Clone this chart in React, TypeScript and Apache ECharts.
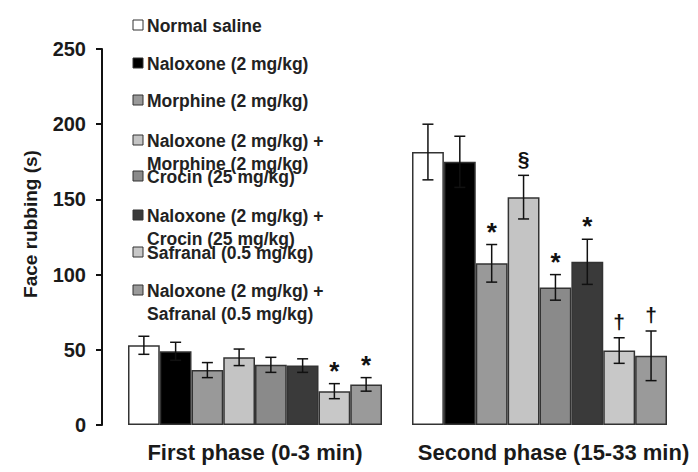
import React, { useEffect, useRef } from "react";
import * as echarts from "echarts";

const groups = [
  "Normal saline",
  "Naloxone (2 mg/kg)",
  "Morphine (2 mg/kg)",
  "Naloxone (2 mg/kg) +\nMorphine (2 mg/kg)",
  "Crocin (25 mg/kg)",
  "Naloxone (2 mg/kg) +\nCrocin (25 mg/kg)",
  "Safranal (0.5 mg/kg)",
  "Naloxone (2 mg/kg) +\nSafranal (0.5 mg/kg)",
];
const colors = ["#ffffff", "#000000", "#999999", "#c4c4c4", "#8a8a8a", "#3a3a3a", "#c8c8c8", "#9a9a9a"];
const phases = ["First phase (0-3 min)", "Second phase (15-33 min)"];
const firstMean = [53, 49, 36.5, 45, 40, 39.5, 22.5, 27];
const firstErr = [6, 6, 5, 5.5, 5, 4.5, 5, 4.5];
const firstMarks = ["", "", "", "", "", "", "*", "*"];
const secondMean = [181.5, 175, 107.5, 151.5, 91.5, 108.5, 49.5, 46];
const secondErr = [18.5, 17, 12.5, 14.5, 8.5, 15, 8.5, 16.5];
const secondMarks = ["", "", "*", "§", "*", "*", "†", "†"];
const yTicks = [0, 50, 100, 150, 200, 250];

const FONT = "Liberation Sans, Arial, sans-serif";

function buildPhase(idx: number, mean: number[], err: number[], marks: string[]) {
  const cats = groups.map((_, i) => String(i));
  const bar = {
    type: "bar",
    xAxisIndex: idx,
    yAxisIndex: idx,
    barWidth: "100%",
    data: mean.map((v, i) => ({
      value: v,
      itemStyle: { color: colors[i], borderColor: "#333", borderWidth: 1.5 },
    })),
    z: 2,
  };
  const errSeries = {
    type: "custom",
    xAxisIndex: idx,
    yAxisIndex: idx,
    z: 3,
    data: mean.map((v, i) => [i, v, err[i]]),
    renderItem: (params: any, api: any) => {
      const x = api.value(0);
      const m = api.value(1);
      const e = api.value(2);
      const mk = marks[x];
      const top = api.coord([x, m + e]);
      const bot = api.coord([x, m - e]);
      const cap = 5.5;
      const st = { stroke: "#111", lineWidth: 1.5 };
      const children: any[] = [
        { type: "line", shape: { x1: top[0], y1: top[1], x2: bot[0], y2: bot[1] }, style: st },
        { type: "line", shape: { x1: top[0] - cap, y1: top[1], x2: top[0] + cap, y2: top[1] }, style: st },
        { type: "line", shape: { x1: bot[0] - cap, y1: bot[1], x2: bot[0] + cap, y2: bot[1] }, style: st },
      ];
      if (mk) {
        const isStar = mk === "*";
        children.push({
          type: "text",
          style: {
            text: mk,
            x: top[0],
            y: top[1] - (isStar ? 0 : 6),
            align: "center",
            verticalAlign: "bottom",
            font: `bold ${isStar ? 26 : 21}px ${FONT}`,
            fill: "#111",
          },
        });
      }
      return { type: "group", children };
    },
  };
  const xAxis = {
    type: "category",
    gridIndex: idx,
    data: cats,
    axisLine: { show: false },
    axisTick: { show: false },
    axisLabel: { show: false },
    name: phases[idx],
    nameLocation: "middle",
    nameGap: 16,
    nameTextStyle: {
      fontFamily: FONT,
      fontWeight: "bold",
      fontSize: 22,
      color: "#1a1a1a",
      padding: idx === 1 ? [0, 0, 0, 28] : [0, 0, 0, 0],
    },
  };
  return { bar, errSeries, xAxis };
}

export default function App() {
  const ref = useRef<HTMLDivElement>(null);
  useEffect(() => {
    if (!ref.current) return;
    const chart = echarts.init(ref.current, undefined, { renderer: "svg" });
    const p1 = buildPhase(0, firstMean, firstErr, firstMarks);
    const p2 = buildPhase(1, secondMean, secondErr, secondMarks);

    const legendGraphics: any[] = [];
    const legendY = [25, 63, 100, 140, 176, 215, 252, 290];
    groups.forEach((g, i) => {
      legendGraphics.push({
        type: "rect",
        shape: { x: 133, y: legendY[i] - 5, width: 10, height: 10 },
        style: { fill: colors[i], stroke: "#333", lineWidth: 1 },
      });
      legendGraphics.push({
        type: "text",
        x: 147,
        y: legendY[i] - 11,
        style: {
          text: g,
          font: `bold 17.5px ${FONT}`,
          fill: "#222",
          lineHeight: 23,
          textVerticalAlign: "top",
        },
      });
    });

    chart.setOption({
      animation: false,
      backgroundColor: "#ffffff",
      grid: [
        { left: 128, width: 254, top: 49, bottom: 47 },
        { left: 412, width: 255, top: 49, bottom: 47 },
      ],
      xAxis: [p1.xAxis, p2.xAxis],
      yAxis: [
        {
          type: "value",
          gridIndex: 0,
          min: 0,
          max: 250,
          interval: 50,
          offset: 26,
          name: "Face rubbing (s)",
          nameLocation: "middle",
          nameGap: 62,
          nameTextStyle: {
            fontFamily: FONT,
            fontWeight: "bold",
            fontSize: 19,
            color: "#1a1a1a",
            padding: [0, 0, 0, 26],
          },
          axisLine: { show: true, lineStyle: { color: "#111", width: 2 } },
          axisTick: { show: true, length: 6, lineStyle: { color: "#111", width: 2 } },
          axisLabel: {
            fontFamily: FONT,
            fontWeight: "bold",
            fontSize: 20,
            color: "#1a1a1a",
            margin: 16,
            formatter: (v: number) => (yTicks.includes(v) ? String(v) : ""),
          },
          splitLine: { show: false },
        },
        {
          type: "value",
          gridIndex: 1,
          min: 0,
          max: 250,
          interval: 50,
          show: false,
          splitLine: { show: false },
        },
      ],
      series: [p1.bar, p1.errSeries, p2.bar, p2.errSeries],
      graphic: legendGraphics,
    });
    return () => chart.dispose();
  }, []);
  return <div ref={ref} style={{ width: 698, height: 472, marginLeft: -8, marginTop: -8 }} />;
}
